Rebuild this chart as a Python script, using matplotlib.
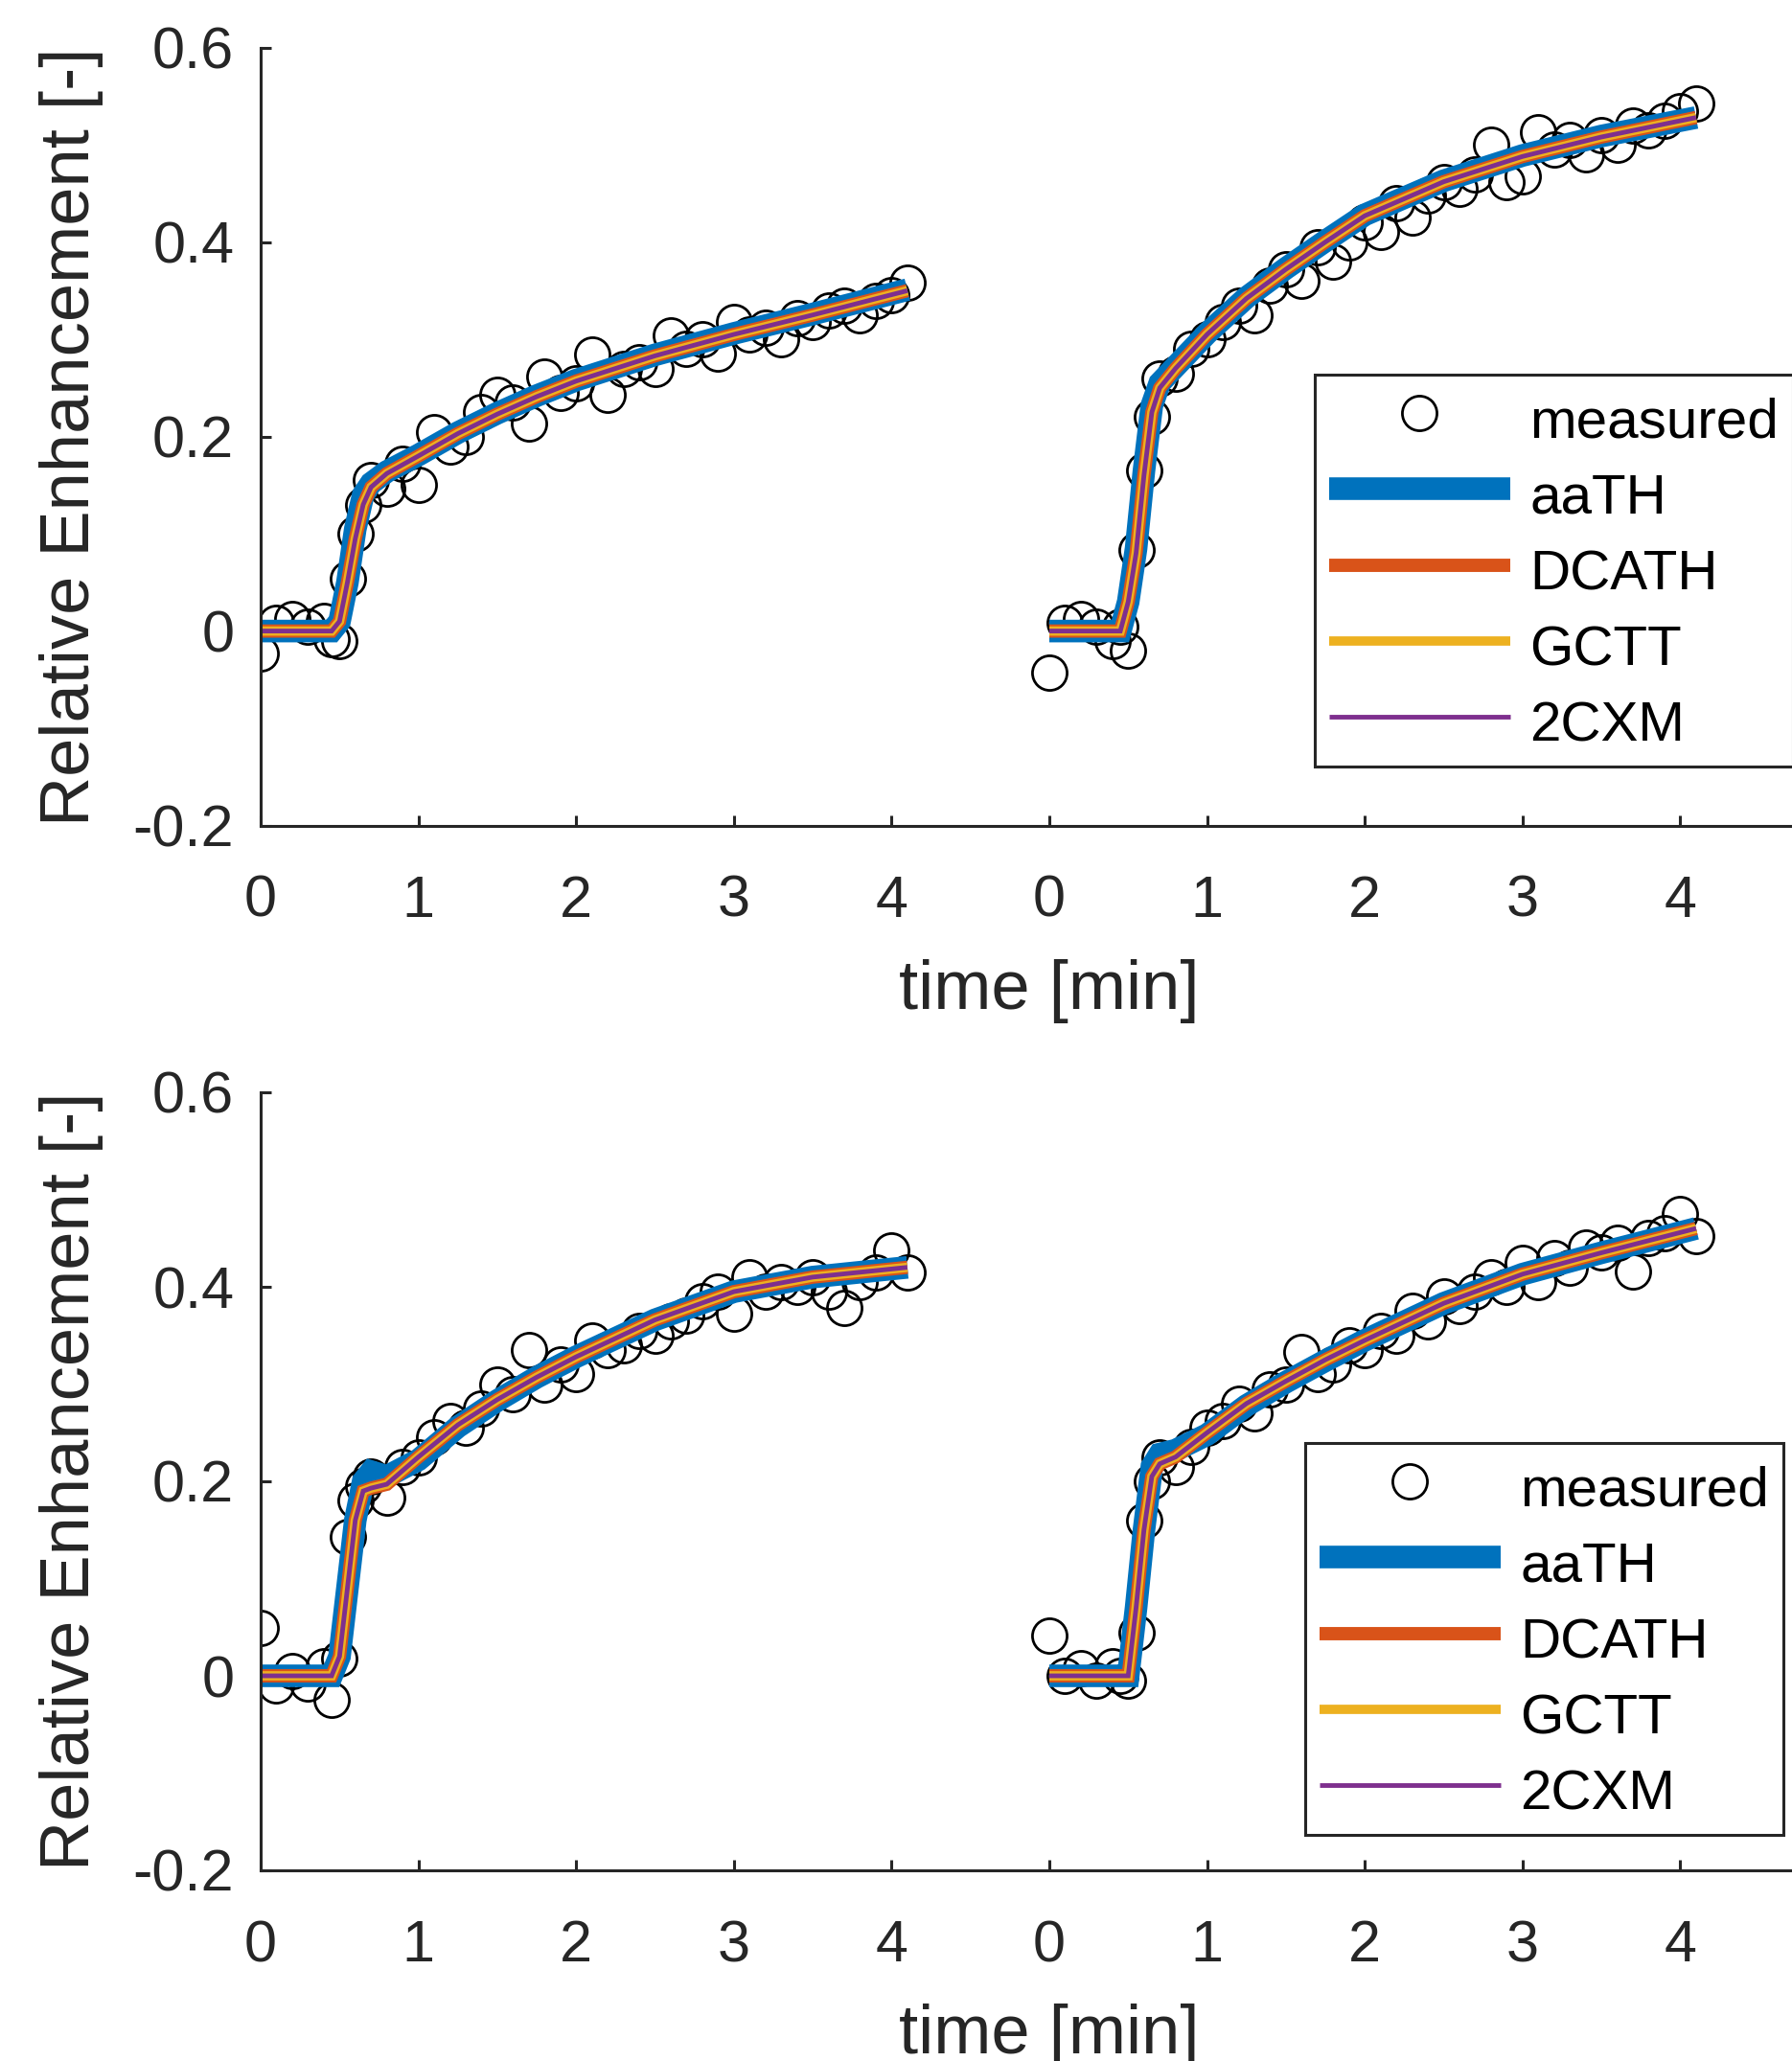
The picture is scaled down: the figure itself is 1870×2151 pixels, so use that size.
import matplotlib
matplotlib.use('Agg')
import matplotlib.pyplot as plt
import numpy as np

plt.rcParams['font.family'] = ['Liberation Sans', 'DejaVu Sans']
plt.rcParams['axes.unicode_minus'] = False

# sample times of the measured curves [min]
t_meas = [0.0, 0.1, 0.2, 0.3, 0.4, 0.45, 0.5, 0.55, 0.6, 0.65, 0.7, 0.8, 0.9,
          1.0, 1.1, 1.2, 1.3, 1.4, 1.5, 1.6, 1.7, 1.8, 1.9, 2.0, 2.1, 2.2,
          2.3, 2.4, 2.5, 2.6, 2.7, 2.8, 2.9, 3.0, 3.1, 3.2, 3.3, 3.4, 3.5,
          3.6, 3.7, 3.8, 3.9, 4.0, 4.1]
# time points of the fitted model curves [min]
t_fit = [0.0, 0.45, 0.5, 0.55, 0.6, 0.65, 0.7, 0.8, 1.0, 1.25, 1.5, 1.75,
         2.0, 2.5, 3.0, 3.5, 4.1]

# measured relative enhancement, four curves
tl_meas = [-0.023, 0.008, 0.012, 0.005, 0.010, -0.008, -0.010, 0.054, 0.100,
           0.130, 0.155, 0.146, 0.172, 0.150, 0.205, 0.190, 0.200, 0.225,
           0.243, 0.235, 0.213, 0.262, 0.245, 0.255, 0.284, 0.243, 0.270,
           0.276, 0.270, 0.304, 0.290, 0.300, 0.285, 0.318, 0.305, 0.312,
           0.300, 0.322, 0.318, 0.330, 0.335, 0.325, 0.340, 0.345, 0.358]
tr_meas = [-0.043, 0.008, 0.012, 0.005, -0.010, 0.005, -0.020, 0.083, 0.165,
           0.220, 0.260, 0.265, 0.290, 0.300, 0.318, 0.335, 0.325, 0.355,
           0.372, 0.360, 0.395, 0.380, 0.400, 0.420, 0.410, 0.440, 0.425,
           0.448, 0.462, 0.455, 0.470, 0.500, 0.462, 0.468, 0.513, 0.495,
           0.505, 0.490, 0.510, 0.500, 0.520, 0.515, 0.525, 0.535, 0.542]
bl_meas = [0.049, -0.010, 0.005, -0.008, 0.010, -0.025, 0.018, 0.143, 0.180,
           0.195, 0.205, 0.183, 0.215, 0.225, 0.245, 0.262, 0.255, 0.275,
           0.300, 0.290, 0.335, 0.300, 0.320, 0.310, 0.345, 0.335, 0.340,
           0.355, 0.350, 0.365, 0.370, 0.385, 0.395, 0.372, 0.410, 0.395,
           0.405, 0.400, 0.410, 0.395, 0.378, 0.405, 0.415, 0.437, 0.415]
br_meas = [0.041, 0.000, 0.008, -0.005, 0.010, 0.000, -0.005, 0.044, 0.160,
           0.200, 0.225, 0.215, 0.235, 0.255, 0.262, 0.280, 0.270, 0.295,
           0.300, 0.333, 0.310, 0.320, 0.340, 0.335, 0.355, 0.350, 0.375,
           0.365, 0.390, 0.380, 0.395, 0.410, 0.400, 0.425, 0.405, 0.430,
           0.420, 0.440, 0.435, 0.445, 0.416, 0.450, 0.455, 0.475, 0.452]

# model fits: aaTH, and DCATH / GCTT / 2CXM (practically identical)
tl_aath = [0, 0, 0.01, 0.05, 0.105, 0.14, 0.152, 0.164, 0.181, 0.204, 0.224,
           0.242, 0.258, 0.284, 0.306, 0.326, 0.351]
tl_fit = [0, 0, 0.01, 0.05, 0.095, 0.13, 0.148, 0.162, 0.18, 0.203, 0.223,
          0.241, 0.257, 0.283, 0.305, 0.325, 0.350]
tr_aath = [0, 0, 0.03, 0.085, 0.165, 0.232, 0.255, 0.272, 0.306, 0.343,
           0.373, 0.401, 0.428, 0.463, 0.489, 0.509, 0.528]
tr_fit = [0, 0, 0.03, 0.08, 0.16, 0.225, 0.25, 0.27, 0.305, 0.342, 0.372,
          0.40, 0.427, 0.462, 0.488, 0.508, 0.528]
bl_aath = [0, 0, 0.02, 0.09, 0.16, 0.20, 0.21, 0.205, 0.222, 0.256, 0.283,
           0.307, 0.328, 0.366, 0.395, 0.41, 0.42]
bl_fit = [0, 0, 0.02, 0.09, 0.16, 0.19, 0.193, 0.197, 0.225, 0.258, 0.284,
          0.307, 0.328, 0.366, 0.395, 0.41, 0.42]
br_aath = [0, 0, 0.0, 0.07, 0.15, 0.215, 0.228, 0.232, 0.248, 0.278, 0.302,
           0.324, 0.345, 0.383, 0.413, 0.435, 0.46]
br_fit = [0, 0, 0.0, 0.07, 0.15, 0.205, 0.218, 0.225, 0.25, 0.28, 0.303,
          0.325, 0.345, 0.383, 0.413, 0.435, 0.46]

models = ['aaTH', 'DCATH', 'GCTT', '2CXM']
colors = ['#0072BD', '#D95319', '#EDB120', '#7E2F8E']
widths = [17, 10, 7, 3.5]

xtick_pos = [0, 1, 2, 3, 4, 5, 6, 7, 8, 9]
xtick_lab = ['0', '1', '2', '3', '4', '0', '1', '2', '3', '4']
ytick_pos = [-0.2, 0, 0.2, 0.4, 0.6]
ytick_lab = ['-0.2', '0', '0.2', '0.4', '0.6']

dark = '#262626'
W, H = 1870, 2151

fig = plt.figure(figsize=(W / 100, H / 100), dpi=100)


def draw_row(ax, panels, leg_xy):
    first = True
    for shift, meas, aath, fit in panels:
        x = np.array(t_meas) + shift
        xf = np.array(t_fit) + shift
        ax.plot(x, meas, 'o', ms=26, mfc='none', mec='black', mew=2.0,
                label='measured' if first else None)
        curves = [aath, fit, fit, fit]
        for name, c, w, y in zip(models, colors, widths, curves):
            ax.plot(xf, y, '-', color=c, lw=w, solid_joinstyle='miter',
                    solid_capstyle='butt', label=name if first else None)
        first = False

    ax.set_xlim(0, 10)
    ax.set_ylim(-0.2, 0.6)
    ax.set_xticks(xtick_pos)
    ax.set_xticklabels(xtick_lab)
    ax.set_yticks(ytick_pos)
    ax.set_yticklabels(ytick_lab)
    for s in ['top', 'right']:
        ax.spines[s].set_visible(False)
    for s in ['left', 'bottom']:
        ax.spines[s].set_linewidth(2.2)
        ax.spines[s].set_color(dark)
    ax.tick_params(direction='in', length=8, width=2.2, color=dark,
                   labelcolor=dark, labelsize=44)
    ax.tick_params(axis='x', pad=37)
    ax.tick_params(axis='y', pad=20)
    ax.set_xlabel('time [min]', fontsize=52, color=dark, labelpad=22)
    ax.set_ylabel('Relative Enhancement [-]', fontsize=52, color=dark,
                  labelpad=22)

    leg = ax.legend(loc='upper left', bbox_to_anchor=leg_xy,
                    bbox_transform=fig.transFigure, borderaxespad=0,
                    fontsize=42, handlelength=3.24, handletextpad=0.36,
                    handleheight=1.28, labelspacing=0.28, borderpad=0.25,
                    fancybox=False, framealpha=1, numpoints=1)
    leg.get_frame().set_edgecolor(dark)
    leg.get_frame().set_linewidth(2.2)


ax_top = fig.add_axes([272 / W, 1 - 861.6 / H, 1646 / W, 812 / H])
draw_row(ax_top, [(0, tl_meas, tl_aath, tl_fit), (5, tr_meas, tr_aath, tr_fit)],
         (1372 / W, 1 - 391 / H))

ax_bot = fig.add_axes([272 / W, 1 - 1952 / H, 1646 / W, 812 / H])
draw_row(ax_bot, [(0, bl_meas, bl_aath, bl_fit), (5, br_meas, br_aath, br_fit)],
         (1362 / W, 1 - 1506 / H))

fig.savefig('out.png', dpi=100)
